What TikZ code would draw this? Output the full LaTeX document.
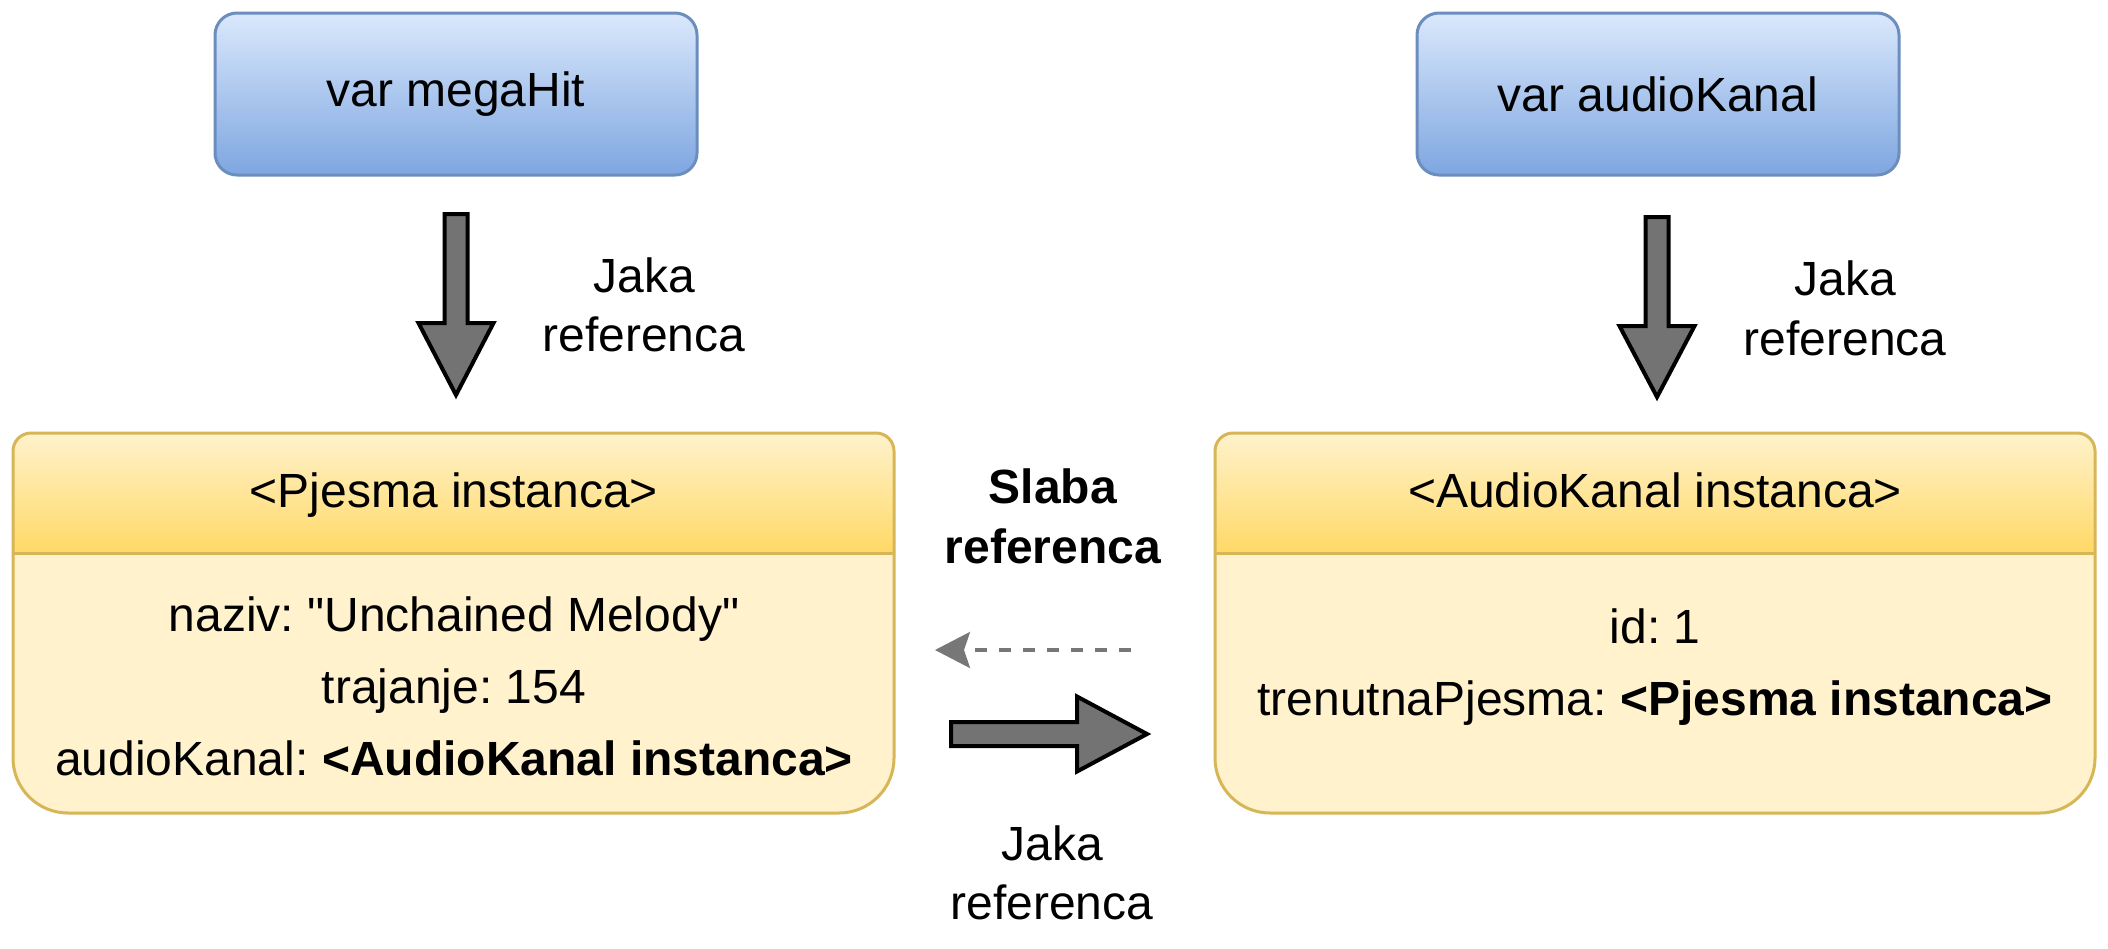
\documentclass[tikz,border=0pt]{standalone}
\usepackage{fontspec}
\setmainfont{Liberation Sans}[Ligatures=TeXOff]
\usetikzlibrary{arrows.meta}
\definecolor{bluetop}{HTML}{DAE8FC}
\definecolor{bluebot}{HTML}{7EA6E0}
\definecolor{bluestroke}{HTML}{6C8EBF}
\definecolor{yelfill}{HTML}{FFF2CC}
\definecolor{yelhead}{HTML}{FFD966}
\definecolor{yelstroke}{HTML}{D6B656}
\definecolor{arrowgray}{HTML}{737373}
\definecolor{dashgray}{HTML}{777777}
\frenchspacing
\begin{document}
\begin{tikzpicture}[x=0.5pt,y=-0.5pt,
  txt/.style={font=\fontsize{24pt}{29.5pt}\selectfont, inner sep=0pt, align=center},
  lbl/.style={txt, anchor=base},
  varbox/.style={draw=bluestroke, line width=1.5pt, rounded corners=11pt, top color=bluetop, bottom color=bluebot, minimum width=241pt, minimum height=81pt, txt},
  blockarrow/.style={draw=black, fill=arrowgray, line width=2pt, line join=miter},
  weakarrow/.style={draw=dashgray, line width=1.6pt, dash pattern=on 6pt off 6pt, -{Stealth[length=17.5pt,width=18pt,inset=3pt]}},
  boxline/.style={draw=yelstroke, line width=1.5pt}
]
\useasboundingbox[fill=white] (0,0) rectangle (2108,948);

% variable boxes
\node[varbox] (mh) at (456,94) {var megaHit};
\node[varbox] (ak) at (1658,94) {var audioKanal};

% left instance box
\begin{scope}
  \clip[rounded corners=27.5pt] (13,600) -- (13,813) -- (894,813) -- (894,600) [rounded corners=9pt] -- (894,433) -- (13,433) -- cycle;
  \fill[yelfill] (13,433) rectangle (894,813);
  \shade[top color=yelfill, bottom color=yelhead] (13,433) rectangle (894,553);
\end{scope}
\draw[boxline] (13,553) -- (894,553);
\draw[boxline, rounded corners=27.5pt] (13,600) -- (13,813) -- (894,813) -- (894,600) [rounded corners=9pt] -- (894,433) -- (13,433) -- cycle;

% right instance box
\begin{scope}
  \clip[rounded corners=27.5pt] (1215,600) -- (1215,813) -- (2095,813) -- (2095,600) [rounded corners=9pt] -- (2095,433) -- (1215,433) -- cycle;
  \fill[yelfill] (1215,433) rectangle (2095,813);
  \shade[top color=yelfill, bottom color=yelhead] (1215,433) rectangle (2095,553);
\end{scope}
\draw[boxline] (1215,553) -- (2095,553);
\draw[boxline, rounded corners=27.5pt] (1215,600) -- (1215,813) -- (2095,813) -- (2095,600) [rounded corners=9pt] -- (2095,433) -- (1215,433) -- cycle;

% box texts
\node[lbl] (ph) at (454,507) {<Pjesma instanca>};
\node[lbl] (p1) at (454,631) {naziv: "Unchained Melody"};
\node[lbl] (p2) at (454,703) {trajanje: 154};
\node[lbl] (p3) at (454,775) {audioKanal: \textbf{<AudioKanal instanca>}};
\node[lbl] (kh) at (1655,507) {<AudioKanal instanca>};
\node[lbl] (k1) at (1655,643) {id: 1};
\node[lbl] (k2) at (1655,715) {trenutnaPjesma: \textbf{<Pjesma instanca>}};

% strong references from variables
\coordinate (a1) at (456,214);
\draw[blockarrow, shift={(a1)}] (-11.5,0) -- (-11.5,109) -- (-37.5,109) -- (0,181) -- (37.5,109) -- (11.5,109) -- (11.5,0) -- cycle;
\coordinate (a2) at (1657,217);
\draw[blockarrow, shift={(a2)}] (-11.5,0) -- (-11.5,109) -- (-37.5,109) -- (0,180) -- (37.5,109) -- (11.5,109) -- (11.5,0) -- cycle;
\node[lbl] (j1a) at (644,292) {Jaka};
\node[lbl] (j1b) at (644,351) {referenca};
\node[lbl] (j2a) at (1845,295) {Jaka};
\node[lbl] (j2b) at (1845,355) {referenca};

% weak reference
\coordinate (ws) at (1131,650);
\coordinate (we) at (935,650);
\draw[weakarrow] (ws) -- (we);
\node[lbl] (sa) at (1053,503) {\textbf{Slaba}};
\node[lbl] (sb) at (1053,563) {\textbf{referenca}};

% strong reference between instances
\coordinate (a3) at (951,734);
\draw[blockarrow, shift={(a3)}] (0,-12) -- (126,-12) -- (126,-37.5) -- (196,0) -- (126,37.5) -- (126,12) -- (0,12) -- cycle;
\node[lbl] (j3a) at (1052,860) {Jaka};
\node[lbl] (j3b) at (1052,919) {referenca};
\end{tikzpicture}
\end{document}
